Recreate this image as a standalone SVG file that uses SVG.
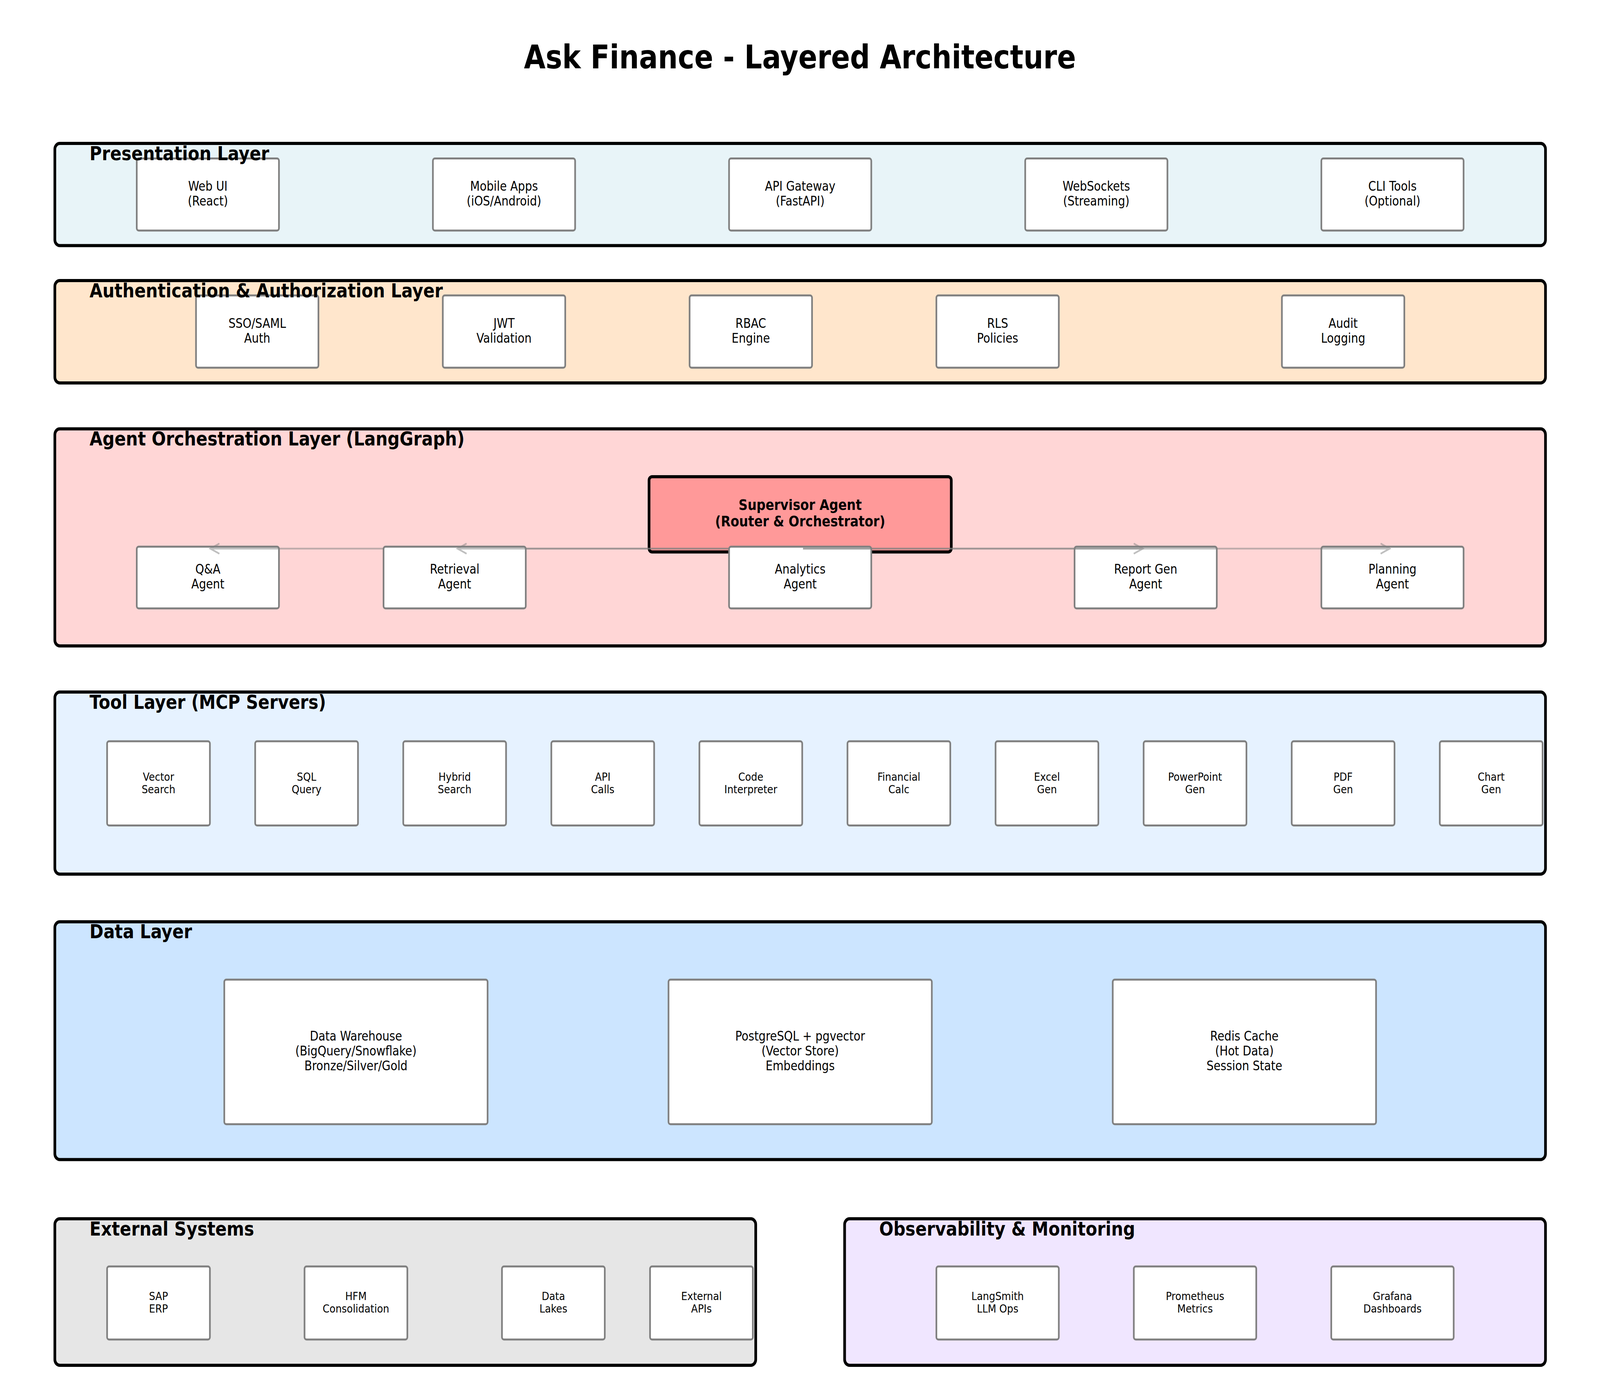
<svg xmlns="http://www.w3.org/2000/svg" width="4770" height="3570" viewBox="0 0 4770 3570" preserveAspectRatio="none">
<style>
svg{width:100vw;height:100vh;overflow:hidden}
text{font-family:"DejaVu Sans","Noto Sans",sans-serif;fill:#000;text-anchor:middle}
.title{font-size:83.3px;font-weight:bold}
.lbl{font-size:50px;font-weight:bold;text-anchor:start}
.layer{stroke:#000;stroke-width:8}
.node rect{fill:#fff;stroke:#808080;stroke-width:5}
.t8{font-size:33.3px}
.t7{font-size:29.2px}
.sup rect{fill:#ff9999;stroke:#000;stroke-width:8}
.sup text{font-size:37.5px;font-weight:bold}
.conn path{fill:none;stroke:#808080;stroke-opacity:0.5;stroke-width:4.5}
</style>
<rect width="4770" height="3570" fill="#fff"/>
<text class="title" x="2385" y="175">Ask Finance - Layered Architecture</text>

<g id="layers">
<rect id="layer-presentation" class="layer" x="163.5" y="367" width="4444" height="261.5" rx="14.7" fill="#e8f4f8"/>
<rect id="layer-auth" class="layer" x="163.5" y="718" width="4444" height="262" rx="14.7" fill="#ffe6cc"/>
<rect id="layer-agent" class="layer" x="163.5" y="1097.5" width="4444" height="555.5" rx="14.7" fill="#ffd6d6"/>
<rect id="layer-tool" class="layer" x="163.5" y="1771" width="4444" height="466" rx="14.7" fill="#e6f2ff"/>
<rect id="layer-data" class="layer" x="163.5" y="2359" width="4444" height="608.5" rx="14.7" fill="#cce5ff"/>
<rect id="layer-external" class="layer" x="163.5" y="3119" width="2089.5" height="375" rx="14.7" fill="#e6e6e6"/>
<rect id="layer-observability" class="layer" x="2518" y="3119" width="2089.5" height="375" rx="14.7" fill="#f0e6ff"/>
</g>

<!-- Presentation -->
<g id="web-ui" class="node"><rect x="407.7" y="405.6" width="424" height="184.4" rx="6"/><text class="t8" x="619.7" y="488.3">Web UI</text><text class="t8" x="619.7" y="526.3">(React)</text></g>
<g id="mobile-apps" class="node"><rect x="1290.6" y="405.6" width="424" height="184.4" rx="6"/><text class="t8" x="1502.6" y="488.3">Mobile Apps</text><text class="t8" x="1502.6" y="526.3">(iOS/Android)</text></g>
<g id="api-gateway" class="node"><rect x="2173.5" y="405.6" width="424" height="184.4" rx="6"/><text class="t8" x="2385.5" y="488.3">API Gateway</text><text class="t8" x="2385.5" y="526.3">(FastAPI)</text></g>
<g id="websockets" class="node"><rect x="3056.4" y="405.6" width="424" height="184.4" rx="6"/><text class="t8" x="3268.4" y="488.3">WebSockets</text><text class="t8" x="3268.4" y="526.3">(Streaming)</text></g>
<g id="cli-tools" class="node"><rect x="3939.3" y="405.6" width="424" height="184.4" rx="6"/><text class="t8" x="4151.3" y="488.3">CLI Tools</text><text class="t8" x="4151.3" y="526.3">(Optional)</text></g>

<!-- Auth -->
<g id="sso-saml" class="node"><rect x="584.35" y="756" width="365" height="185" rx="6"/><text class="t8" x="766.85" y="839">SSO/SAML</text><text class="t8" x="766.85" y="877">Auth</text></g>
<g id="jwt" class="node"><rect x="1320.1" y="756" width="365" height="185" rx="6"/><text class="t8" x="1502.6" y="839">JWT</text><text class="t8" x="1502.6" y="877">Validation</text></g>
<g id="rbac" class="node"><rect x="2055.85" y="756" width="365" height="185" rx="6"/><text class="t8" x="2238.35" y="839">RBAC</text><text class="t8" x="2238.35" y="877">Engine</text></g>
<g id="rls" class="node"><rect x="2791.6" y="756" width="365" height="185" rx="6"/><text class="t8" x="2974.1" y="839">RLS</text><text class="t8" x="2974.1" y="877">Policies</text></g>
<g id="audit" class="node"><rect x="3821.65" y="756" width="365" height="185" rx="6"/><text class="t8" x="4004.15" y="839">Audit</text><text class="t8" x="4004.15" y="877">Logging</text></g>

<!-- Agents -->
<g id="supervisor" class="sup"><rect x="1935" y="1220" width="901" height="192.5" rx="9"/><text x="2385.5" y="1305">Supervisor Agent</text><text x="2385.5" y="1347.5">(Router &amp; Orchestrator)</text></g>
<g id="qa-agent" class="node"><rect x="407.7" y="1399" width="424" height="158" rx="6"/><text class="t8" x="619.7" y="1468.5">Q&amp;A</text><text class="t8" x="619.7" y="1506.5">Agent</text></g>
<g id="retrieval-agent" class="node"><rect x="1143.45" y="1399" width="424" height="158" rx="6"/><text class="t8" x="1355.45" y="1468.5">Retrieval</text><text class="t8" x="1355.45" y="1506.5">Agent</text></g>
<g id="analytics-agent" class="node"><rect x="2173.5" y="1399" width="424" height="158" rx="6"/><text class="t8" x="2385.5" y="1468.5">Analytics</text><text class="t8" x="2385.5" y="1506.5">Agent</text></g>
<g id="report-agent" class="node"><rect x="3203.55" y="1399" width="424" height="158" rx="6"/><text class="t8" x="3415.55" y="1468.5">Report Gen</text><text class="t8" x="3415.55" y="1506.5">Agent</text></g>
<g id="planning-agent" class="node"><rect x="3939.3" y="1399" width="424" height="158" rx="6"/><text class="t8" x="4151.3" y="1468.5">Planning</text><text class="t8" x="4151.3" y="1506.5">Agent</text></g>

<!-- Tools -->
<g id="vector-search" class="node"><rect x="319.3" y="1897" width="306.5" height="215.5" rx="6"/><text class="t7" x="472.55" y="1997.75">Vector</text><text class="t7" x="472.55" y="2029.75">Search</text></g>
<g id="sql-query" class="node"><rect x="760.75" y="1897" width="306.5" height="215.5" rx="6"/><text class="t7" x="914" y="1997.75">SQL</text><text class="t7" x="914" y="2029.75">Query</text></g>
<g id="hybrid-search" class="node"><rect x="1202.2" y="1897" width="306.5" height="215.5" rx="6"/><text class="t7" x="1355.45" y="1997.75">Hybrid</text><text class="t7" x="1355.45" y="2029.75">Search</text></g>
<g id="api-calls" class="node"><rect x="1643.65" y="1897" width="306.5" height="215.5" rx="6"/><text class="t7" x="1796.9" y="1997.75">API</text><text class="t7" x="1796.9" y="2029.75">Calls</text></g>
<g id="code-interpreter" class="node"><rect x="2085.1" y="1897" width="306.5" height="215.5" rx="6"/><text class="t7" x="2238.35" y="1997.75">Code</text><text class="t7" x="2238.35" y="2029.75">Interpreter</text></g>
<g id="financial-calc" class="node"><rect x="2526.55" y="1897" width="306.5" height="215.5" rx="6"/><text class="t7" x="2679.8" y="1997.75">Financial</text><text class="t7" x="2679.8" y="2029.75">Calc</text></g>
<g id="excel-gen" class="node"><rect x="2968" y="1897" width="306.5" height="215.5" rx="6"/><text class="t7" x="3121.25" y="1997.75">Excel</text><text class="t7" x="3121.25" y="2029.75">Gen</text></g>
<g id="powerpoint-gen" class="node"><rect x="3409.45" y="1897" width="306.5" height="215.5" rx="6"/><text class="t7" x="3562.7" y="1997.75">PowerPoint</text><text class="t7" x="3562.7" y="2029.75">Gen</text></g>
<g id="pdf-gen" class="node"><rect x="3850.9" y="1897" width="306.5" height="215.5" rx="6"/><text class="t7" x="4004.15" y="1997.75">PDF</text><text class="t7" x="4004.15" y="2029.75">Gen</text></g>
<g id="chart-gen" class="node"><rect x="4292.35" y="1897" width="306.5" height="215.5" rx="6"/><text class="t7" x="4445.6" y="1997.75">Chart</text><text class="t7" x="4445.6" y="2029.75">Gen</text></g>

<!-- Data -->
<g id="data-warehouse" class="node"><rect x="668.65" y="2507" width="785" height="370" rx="6"/><text class="t8" x="1061.15" y="2663">Data Warehouse</text><text class="t8" x="1061.15" y="2701">(BigQuery/Snowflake)</text><text class="t8" x="1061.15" y="2739">Bronze/Silver/Gold</text></g>
<g id="postgres" class="node"><rect x="1993" y="2507" width="785" height="370" rx="6"/><text class="t8" x="2385.5" y="2663">PostgreSQL + pgvector</text><text class="t8" x="2385.5" y="2701">(Vector Store)</text><text class="t8" x="2385.5" y="2739">Embeddings</text></g>
<g id="redis" class="node"><rect x="3317.35" y="2507" width="785" height="370" rx="6"/><text class="t8" x="3709.85" y="2663">Redis Cache</text><text class="t8" x="3709.85" y="2701">(Hot Data)</text><text class="t8" x="3709.85" y="2739">Session State</text></g>

<!-- External -->
<g id="sap" class="node"><rect x="319.3" y="3241" width="306.5" height="187" rx="6"/><text class="t7" x="472.55" y="3327.5">SAP</text><text class="t7" x="472.55" y="3359.5">ERP</text></g>
<g id="hfm" class="node"><rect x="907.9" y="3241" width="306.5" height="187" rx="6"/><text class="t7" x="1061.15" y="3327.5">HFM</text><text class="t7" x="1061.15" y="3359.5">Consolidation</text></g>
<g id="data-lakes" class="node"><rect x="1496.5" y="3241" width="306.5" height="187" rx="6"/><text class="t7" x="1649.75" y="3327.5">Data</text><text class="t7" x="1649.75" y="3359.5">Lakes</text></g>
<g id="external-apis" class="node"><rect x="1937.95" y="3241" width="306.5" height="187" rx="6"/><text class="t7" x="2091.2" y="3327.5">External</text><text class="t7" x="2091.2" y="3359.5">APIs</text></g>

<!-- Observability -->
<g id="langsmith" class="node"><rect x="2791.6" y="3241" width="365" height="187" rx="6"/><text class="t7" x="2974.1" y="3327.5">LangSmith</text><text class="t7" x="2974.1" y="3359.5">LLM Ops</text></g>
<g id="prometheus" class="node"><rect x="3380.2" y="3241" width="365" height="187" rx="6"/><text class="t7" x="3562.7" y="3327.5">Prometheus</text><text class="t7" x="3562.7" y="3359.5">Metrics</text></g>
<g id="grafana" class="node"><rect x="3968.8" y="3241" width="365" height="187" rx="6"/><text class="t7" x="4151.3" y="3327.5">Grafana</text><text class="t7" x="4151.3" y="3359.5">Dashboards</text></g>

<g id="connectors" class="conn">
<path id="sup-qa" d="M2173.5,1404 H1567.45 M1143.45,1404 H627 M654,1391 L627,1404 L654,1417"/>
<path id="sup-retrieval" d="M2173.5,1404 H1364 M1391,1391 L1364,1404 L1391,1417"/>
<path id="sup-report" d="M2394,1404 H3407 M3380,1391 L3407,1404 L3380,1417"/>
<path id="sup-planning" d="M2394,1404 H4143 M4116,1391 L4143,1404 L4116,1417"/>
</g>

<g id="layer-labels">
<text class="lbl" x="267" y="410">Presentation Layer</text>
<text class="lbl" x="267" y="761">Authentication &amp; Authorization Layer</text>
<text class="lbl" x="267" y="1140.5">Agent Orchestration Layer (LangGraph)</text>
<text class="lbl" x="267" y="1814">Tool Layer (MCP Servers)</text>
<text class="lbl" x="267" y="2401">Data Layer</text>
<text class="lbl" x="267" y="3162">External Systems</text>
<text class="lbl" x="2621" y="3162">Observability &amp; Monitoring</text>
</g>
</svg>
